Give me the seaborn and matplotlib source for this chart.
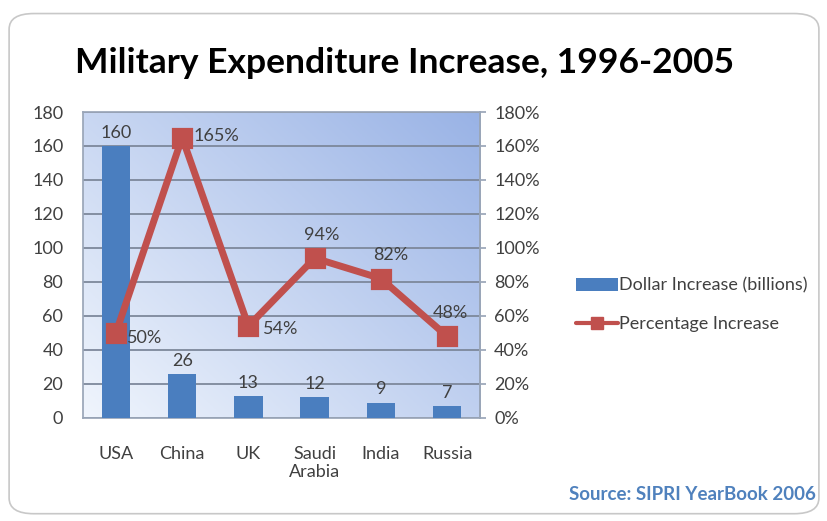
import numpy as np
import pandas as pd
import matplotlib
matplotlib.use("Agg")
import matplotlib.pyplot as plt
import seaborn as sns
from matplotlib.patches import FancyBboxPatch, Patch
from matplotlib.lines import Line2D

countries = ["USA", "China", "UK", "Saudi\nArabia", "India", "Russia"]
dollar_increase = [160, 26, 13, 12, 9, 7]
pct_increase = [50, 165, 54, 94, 82, 48]
left_ticks = list(range(0, 181, 20))
right_ticks = list(range(0, 181, 20))

sns.set_theme(style="white")
plt.rcParams['font.family'] = ['Lato', 'DejaVu Sans']

df = pd.DataFrame({"country": countries, "dollar": dollar_increase, "pct": pct_increase})

fig = plt.figure(figsize=(8.28, 5.21), dpi=100)
fig.patch.set_facecolor("white")

# rounded frame
frame = FancyBboxPatch((0.011, 0.014), 0.978, 0.960, boxstyle="round,pad=0,rounding_size=0.03",
                       transform=fig.transFigure, facecolor="white", edgecolor="#c8c8c8",
                       linewidth=1.2, zorder=-5)
fig.patches.append(frame)

rect = [0.100, 0.198, 0.480, 0.587]

# gradient background in its own axes underneath
bg = fig.add_axes(rect)
bg.set_zorder(0)
nx, ny = 200, 100
gx = np.linspace(0, 1, nx)[None, :]
gy = np.linspace(0, 1, ny)[:, None]
t = np.clip(0.55 * gx + 0.45 * gy, 0, 1)
c0 = np.array([0.94, 0.96, 0.99])
c1 = np.array([0.60, 0.70, 0.90])
img = c0[None, None, :] * (1 - t[..., None]) + c1[None, None, :] * t[..., None]
bg.imshow(img, extent=[0, 1, 0, 1], origin="lower", aspect="auto")
bg.set_xlim(0, 1)
bg.set_ylim(0, 1)
bg.axis("off")

ax = fig.add_axes(rect)
ax.set_zorder(1)
ax.patch.set_visible(False)

sns.barplot(data=df, x="country", y="dollar", color="#4a7ebf", width=0.43,
            saturation=1, linewidth=0, ax=ax, zorder=3)
ax.set_xlim(-0.5, 5.5)
ax.set_ylim(0, 180)
ax.set_yticks(left_ticks)
ax.set_axisbelow(True)
ax.yaxis.grid(True, color="#7d889b", linewidth=1.3)
ax.xaxis.grid(False)
ax.set_xlabel("")
ax.set_ylabel("")
ax.tick_params(axis="y", labelsize=13, labelcolor="#404040", pad=14, length=0)
ax.tick_params(axis="x", labelsize=13, labelcolor="#404040", pad=20, length=0)
for s in ["top", "right", "left", "bottom"]:
    ax.spines[s].set_visible(True)
    ax.spines[s].set_color("#9aa6b8")

for i, v in enumerate(dollar_increase):
    ax.text(i, v + 3, str(v), ha="center", va="bottom", fontsize=13, color="#404040", zorder=5)

ax2 = ax.twinx()
ax2.set_zorder(2)
sns.pointplot(data=df, x="country", y="pct", color="#c0504d", markers="s",
              linewidth=5, markersize=12, ax=ax2, zorder=6)
ax2.set_xlim(-0.5, 5.5)
ax2.set_ylim(0, 180)
ax2.set_yticks(right_ticks)
ax2.set_yticklabels([f"{v}%" for v in right_ticks])
ax2.set_ylabel("")
ax2.tick_params(axis="y", labelsize=13, labelcolor="#404040", pad=6, length=4, color="#9aa6b8", direction="out")
for s in ["top", "left", "bottom"]:
    ax2.spines[s].set_visible(False)
ax2.spines["right"].set_color("#9aa6b8")
ax2.grid(False)
ax2.patch.set_visible(False)

offsets = {0: (0.17, -3, "left", "center"), 1: (0.17, 1, "left", "center"),
           2: (0.22, -2, "left", "center"), 3: (0.1, 9, "center", "bottom"),
           4: (0.15, 9, "center", "bottom"), 5: (0.05, 9, "center", "bottom")}
for i, v in enumerate(pct_increase):
    dx, dy, ha, va = offsets[i]
    ax2.text(i + dx, v + dy, f"{v}%", ha=ha, va=va, fontsize=13, color="#404040", zorder=7)

fig.text(0.488, 0.88, "Military Expenditure Increase, 1996-2005", ha="center", va="center",
         fontsize=25.5, fontweight="bold", color="black")

handles = [Patch(facecolor="#4a7ebf", edgecolor="none"),
           Line2D([0], [0], color="#c0504d", linewidth=3, marker="s", markersize=9)]
fig.legend(handles, ["Dollar Increase (billions)", "Percentage Increase"],
           loc="center left", bbox_to_anchor=(0.676, 0.415), frameon=False, fontsize=13,
           handlelength=2.3, handletextpad=0.1, labelspacing=1.25, labelcolor="#404040")

fig.text(0.985, 0.05, "Source: SIPRI YearBook 2006", ha="right", va="center",
         fontsize=13.5, fontweight="bold", color="#4f81bd")

fig.savefig("out.png", dpi=100)
